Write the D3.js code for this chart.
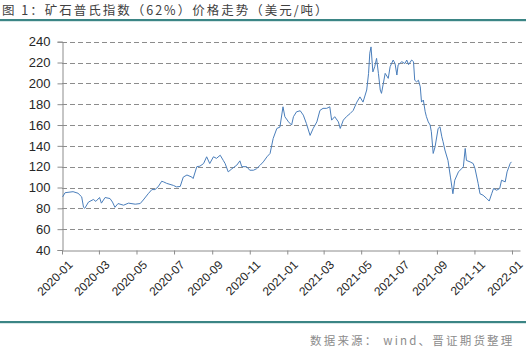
<!DOCTYPE html>
<html>
<head>
<meta charset="utf-8">
<script src="https://cdn.jsdelivr.net/npm/d3@7"></script>
<style>
  body { margin: 0; background: #fff; }
  svg { display: block; }
</style>
</head>
<body>
<svg id="drawing_region"></svg>
<script>
// values
const dates = [
  "2020-01-02","2020-01-06","2020-01-19","2020-01-27","2020-02-02","2020-02-05","2020-02-07","2020-02-13",
  "2020-02-21","2020-02-25","2020-03-02","2020-03-05","2020-03-11","2020-03-19","2020-03-23","2020-03-27",
  "2020-04-01","2020-04-10","2020-04-18","2020-04-29","2020-05-07","2020-05-12","2020-05-20","2020-05-26",
  "2020-05-31","2020-06-05","2020-06-11","2020-06-14","2020-06-19","2020-06-30","2020-07-05","2020-07-11",
  "2020-07-16","2020-07-22","2020-07-30","2020-08-01","2020-08-07","2020-08-12","2020-08-18","2020-08-23",
  "2020-08-28","2020-09-03","2020-09-08","2020-09-14","2020-09-19","2020-09-22","2020-09-27","2020-10-03",
  "2020-10-11","2020-10-16","2020-10-19","2020-10-27","2020-11-01","2020-11-07","2020-11-12","2020-11-18",
  "2020-11-23","2020-11-29","2020-12-04","2020-12-09","2020-12-15","2020-12-20","2020-12-25","2020-12-28",
  "2021-01-03","2021-01-08","2021-01-11","2021-01-16","2021-01-22","2021-01-27","2021-02-01","2021-02-07",
  "2021-02-12","2021-02-18","2021-02-23","2021-02-28","2021-03-06","2021-03-11","2021-03-14","2021-03-19",
  "2021-03-25","2021-03-28","2021-04-02","2021-04-07","2021-04-13","2021-04-18","2021-04-24","2021-04-29",
  "2021-05-04","2021-05-10","2021-05-13","2021-05-15","2021-05-17","2021-05-20","2021-05-23","2021-05-26",
  "2021-05-29","2021-06-01","2021-06-03","2021-06-06","2021-06-09","2021-06-14","2021-06-17","2021-06-22",
  "2021-06-25","2021-06-28","2021-06-30","2021-07-06","2021-07-11","2021-07-14","2021-07-17","2021-07-22",
  "2021-07-25","2021-07-27","2021-07-30","2021-08-02","2021-08-05","2021-08-07","2021-08-10","2021-08-13",
  "2021-08-15","2021-08-18","2021-08-21","2021-08-23","2021-08-26","2021-08-29","2021-09-03","2021-09-06",
  "2021-09-09","2021-09-11","2021-09-14","2021-09-19","2021-09-23","2021-09-27","2021-09-30","2021-10-06",
  "2021-10-11","2021-10-14","2021-10-17","2021-10-19","2021-10-25","2021-10-30","2021-11-02","2021-11-07",
  "2021-11-10","2021-11-15","2021-11-21","2021-11-25","2021-11-29","2021-12-02","2021-12-07","2021-12-12",
  "2021-12-15","2021-12-21","2021-12-24","2021-12-29","2021-12-31"
];
const prices = [
  91, 95, 96, 94.5, 91, 81, 80, 86,
  88.5, 86.7, 90.4, 85, 90.4, 89.4, 86, 81,
  84.6, 83, 85, 84, 84.6, 88, 94, 98,
  98, 100.6, 106, 105.4, 104, 102, 100.6, 101,
  110, 112, 110, 108.6, 120, 120.5, 123, 129.5,
  123, 129.5, 128, 131, 126, 123, 115, 118,
  121.5, 125.6, 120, 120, 116.6, 116.6, 118, 121.5,
  124.6, 129.5, 132.7, 147, 156.7, 158, 177.5, 168,
  163, 160, 168, 172.7, 173.7, 169.5, 161.5, 150,
  156.7, 163, 174, 176, 176, 177.5, 164.7, 168,
  163, 156.7, 164.7, 168, 171, 174, 182, 187,
  182, 193.6, 209.6, 229, 235, 211, 216, 224,
  209.6, 193.6, 190.4, 200, 209.6, 204.8, 216, 222.4,
  219, 208, 217.6, 220.8, 219, 222.4, 218, 222.4,
  220.8, 203, 201.5, 203, 196.7, 182, 184, 172.7,
  168, 163, 160, 153.5, 132.7, 139, 156.7, 158.3,
  148.7, 144, 136, 126, 110, 94, 107, 115,
  118, 120, 137.5, 126, 124.6, 123, 118, 104,
  94, 92.6, 89.4, 87, 94, 99, 97.4, 99,
  107, 105.4, 115, 123, 124.6
];
const yTicks = [40, 60, 80, 100, 120, 140, 160, 180, 200, 220, 240];
const xTickLabels = ["2020-01","2020-03","2020-05","2020-07","2020-09","2020-11",
                     "2021-01","2021-03","2021-05","2021-07","2021-09","2021-11","2022-01"];
const title = "图 1：矿石普氏指数（62%）价格走势（美元/吨）";
const source = "数据来源： wind、晋证期货整理";

const W = 526, H = 352;
const parseDate = d3.timeParse("%Y-%m-%d");
const parseMonth = d3.timeParse("%Y-%m");
const data = dates.map((d, i) => ({ date: parseDate(d), value: prices[i] }));

const svg = d3.select("#drawing_region")
    .attr("width", W)
    .attr("height", H);

const plot = { left: 62, right: 520, top: 41.7, bottom: 250 };

const xscale = d3.scaleTime()
    .domain([parseDate("2020-01-01"), parseDate("2022-01-14")])
    .range([plot.left, plot.right]);

const yscale = d3.scaleLinear()
    .domain([40, 240])
    .range([plot.bottom, plot.top]);

// title + teal rules
svg.append("text")
    .attr("x", 2)
    .attr("y", 15)
    .attr("font-family", "'Noto Sans CJK SC', sans-serif")
    .attr("font-size", "12.5px")
    .attr("letter-spacing", "2px")
    .attr("fill", "#404040")
    .text(title);

svg.append("rect")
    .attr("x", 0).attr("y", 19)
    .attr("width", W).attr("height", 2.2)
    .attr("fill", "#3b8585");

svg.append("rect")
    .attr("x", 0).attr("y", 321)
    .attr("width", W).attr("height", 2.2)
    .attr("fill", "#3b8585");

// gridlines
svg.append("g")
    .selectAll("line")
    .data(yTicks.filter(t => t > 40))
    .join("line")
    .attr("x1", plot.left)
    .attr("x2", 522)
    .attr("y1", d => Math.round(yscale(d)) + 0.5)
    .attr("y2", d => Math.round(yscale(d)) + 0.5)
    .attr("stroke", "#8c8c8c")
    .attr("stroke-width", 1)
    .attr("stroke-dasharray", "5,3");

// y axis
const yaxis = d3.axisLeft(yscale)
    .tickValues(yTicks)
    .tickSize(5)
    .tickPadding(7);

const yaxis_group = svg.append("g")
    .attr("transform", `translate(${plot.left + 0.5}, 0)`)
    .call(yaxis);
yaxis_group.select(".domain").attr("stroke", "#8c8c8c");
yaxis_group.selectAll(".tick line").attr("stroke", "#8c8c8c");
yaxis_group.selectAll(".tick text")
    .attr("font-family", "'Liberation Sans', Arial, sans-serif")
    .attr("font-size", "13px")
    .attr("fill", "#262626");

// x axis
const xaxis = d3.axisBottom(xscale)
    .tickValues(xTickLabels.map(parseMonth))
    .tickFormat(d3.timeFormat("%Y-%m"))
    .tickSize(4)
    .tickSizeOuter(0);

const xaxis_group = svg.append("g")
    .attr("transform", `translate(0, ${Math.round(plot.bottom) + 0.5})`)
    .call(xaxis);
xaxis_group.select(".domain").attr("stroke", "#8c8c8c");
xaxis_group.selectAll(".tick line").attr("stroke", "#8c8c8c");
xaxis_group.selectAll(".tick text")
    .attr("font-family", "'Liberation Sans', Arial, sans-serif")
    .attr("font-size", "12px")
    .attr("fill", "#262626")
    .attr("text-anchor", "end")
    .attr("dy", "0")
    .attr("transform", "translate(6, 10) rotate(-45)");

// price line
const line = d3.line()
    .x(d => xscale(d.date))
    .y(d => yscale(d.value));

svg.append("path")
    .datum(data)
    .attr("fill", "none")
    .attr("stroke", "#4a7ebb")
    .attr("stroke-width", 1)
    .attr("stroke-linejoin", "round")
    .attr("d", line);

// source note
svg.append("text")
    .attr("x", 310)
    .attr("y", 345)
    .attr("font-family", "'Noto Sans CJK SC', sans-serif")
    .attr("font-size", "11.5px")
    .attr("letter-spacing", "2.2px")
    .attr("fill", "#8c8c8c")
    .text(source);
</script>
</body>
</html>
